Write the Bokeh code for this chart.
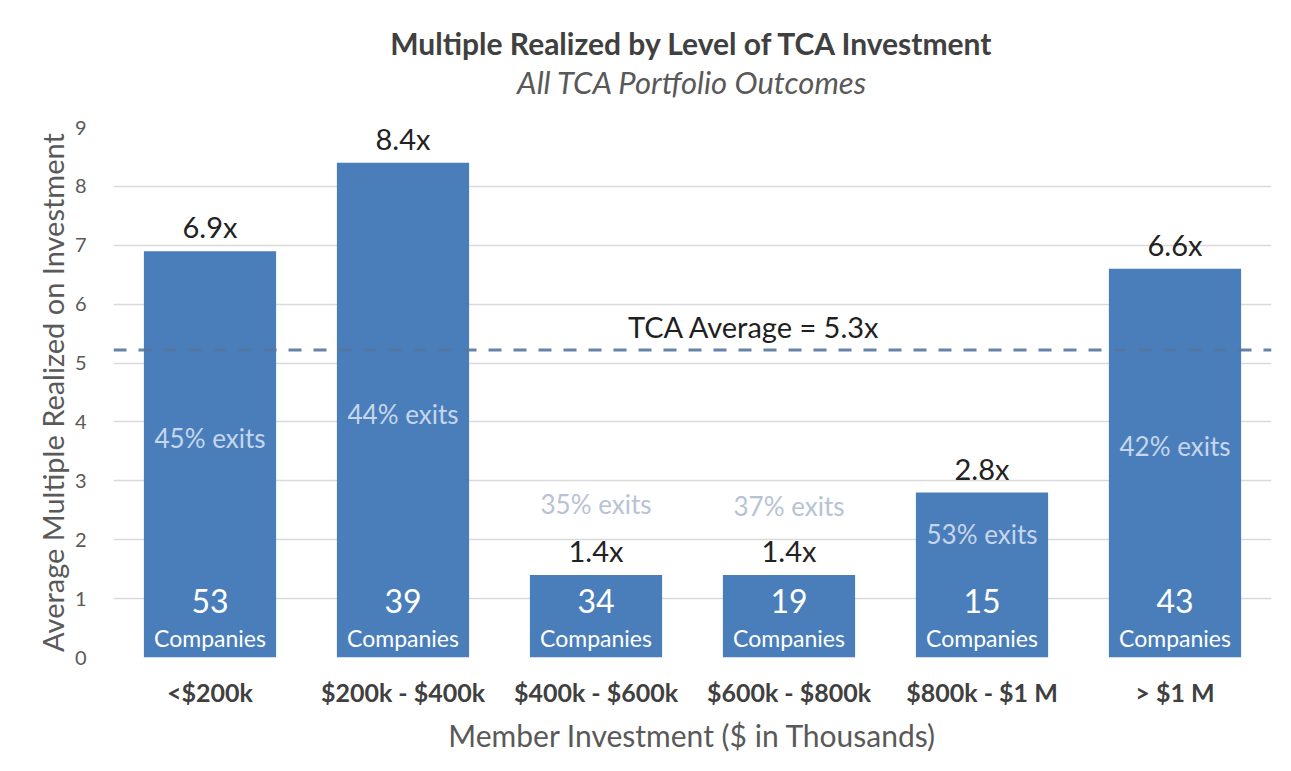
from bokeh.plotting import figure
from bokeh.models import ColumnDataSource, FixedTicker, Span, Title, Label
from bokeh.core.properties import value
from bokeh.embed import file_html
from bokeh.resources import INLINE

# ---- data ----
categories = ["<$200k", "$200k - $400k", "$400k - $600k", "$600k - $800k", "$800k - $1 M", "> $1 M"]
multiples = [6.9, 8.4, 1.4, 1.4, 2.8, 6.6]
companies = [53, 39, 34, 19, 15, 43]
exit_pct = [45, 44, 35, 37, 53, 42]
tca_average = 5.3
avg_line_level = 5.22
y_ticks = [0, 1, 2, 3, 4, 5, 6, 7, 8, 9]

# ---- layout helpers (label placements) ----
exit_label_y = [3.72, 4.14, 2.61, 2.58, 2.1, 3.6]

FONT = "Lato"
BAR = "#4a7ebb"

mult_text = [f"{m:.1f}x" for m in multiples]
count_text = [str(c) for c in companies]
exit_text = [f"{e}% exits" for e in exit_pct]
exit_color = ["#c6d6ec" if ey < m else "#b7c3d5" for ey, m in zip(exit_label_y, multiples)]

src = ColumnDataSource(dict(cat=categories, mult=multiples, mult_text=mult_text,
                            count_text=count_text, exit_text=exit_text,
                            exit_y=exit_label_y, exit_color=exit_color,
                            zero=[0] * len(categories)))

p = figure(x_range=categories, y_range=(0, 9), width=1283, height=763,
           output_backend="svg", toolbar_location=None,
           min_border_left=113, min_border_right=12, min_border_top=127, min_border_bottom=106)

# spacer between frame and subtitle
p.add_layout(Title(text=" ", text_font=FONT, text_font_size="21px", standoff=0), "above")
p.add_layout(Title(text="All TCA Portfolio Outcomes", align="center", text_font=FONT,
                   text_font_size="31px", text_font_style="italic", text_color="#595959",
                   standoff=0), "above")
p.add_layout(Title(text="Multiple Realized by Level of TCA Investment", align="center",
                   text_font=FONT, text_font_size="30px", text_font_style="bold",
                   text_color="#404040", standoff=0), "above")

p.vbar(x="cat", top="mult", width=0.685, source=src, fill_color=BAR, line_color=None)

avg = Span(location=avg_line_level, dimension="width", line_color="#5576a0",
           line_width=3, line_dash="13 12", line_alpha=0.9)
p.add_layout(avg)

p.add_layout(Label(x=3.32, y=5.62, text=f"TCA Average = {tca_average}x", text_font=FONT,
                   text_font_size="29px", text_color="#1f1f1f", text_align="center",
                   text_baseline="middle"))

p.text(x="cat", y="mult", text="mult_text", source=src, text_font=value(FONT),
       text_font_size="29px", text_color="#222222", text_align="center",
       text_baseline="bottom", y_offset=-7)
p.text(x="cat", y="exit_y", text="exit_text", source=src, text_font=value(FONT),
       text_font_size="26px", text_color="exit_color", text_align="center",
       text_baseline="middle")
p.text(x="cat", y="zero", text="count_text", source=src, text_font=value(FONT),
       text_font_size="32px", text_color="white", text_align="center",
       text_baseline="middle", y_offset=-57)
p.text(x="cat", y="zero", text=value("Companies"), source=src, text_font=value(FONT),
       text_font_size="23px", text_color="white", text_align="center",
       text_baseline="middle", y_offset=-20)

# axes
p.yaxis.ticker = FixedTicker(ticks=y_ticks)
p.yaxis.axis_label = "Average Multiple Realized on Investment"
p.yaxis.axis_label_text_font = FONT
p.yaxis.axis_label_text_font_size = "29px"
p.yaxis.axis_label_text_font_style = "normal"
p.yaxis.axis_label_text_color = "#595959"
p.yaxis.axis_label_standoff = 2
p.yaxis.major_label_text_font = FONT
p.yaxis.major_label_text_font_size = "20px"
p.yaxis.major_label_text_color = "#595959"
p.yaxis.major_label_standoff = 27
p.yaxis.axis_line_color = None
p.yaxis.major_tick_line_color = None
p.yaxis.major_tick_out = 0
p.yaxis.major_tick_in = 0
p.yaxis.minor_tick_line_color = None
p.yaxis.minor_tick_out = 0

p.xaxis.axis_label = "Member Investment ($ in Thousands)"
p.xaxis.axis_label_text_font = FONT
p.xaxis.axis_label_text_font_size = "30px"
p.xaxis.axis_label_text_font_style = "normal"
p.xaxis.axis_label_text_color = "#595959"
p.xaxis.axis_label_standoff = 7
p.xaxis.major_label_text_font = FONT
p.xaxis.major_label_text_font_size = "25px"
p.xaxis.major_label_text_font_style = "bold"
p.xaxis.major_label_text_color = "#404040"
p.xaxis.major_label_standoff = 19
p.xaxis.axis_line_color = None
p.xaxis.major_tick_line_color = None
p.xaxis.major_tick_out = 0
p.xaxis.major_tick_in = 0

p.xgrid.grid_line_color = None
p.ygrid.grid_line_color = "#d9d9d9"
p.ygrid.grid_line_width = 1.5
p.outline_line_color = None
p.background_fill_color = "white"
p.border_fill_color = "white"

open("out.html", "w").write(file_html(p, INLINE))
